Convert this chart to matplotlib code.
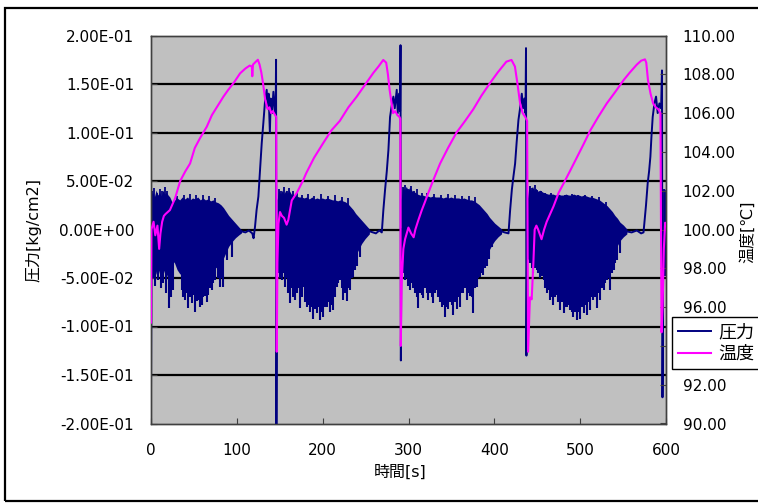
import numpy as np
import matplotlib
matplotlib.use("Agg")
import matplotlib.pyplot as plt
from matplotlib.patches import Rectangle
from matplotlib.ticker import FuncFormatter, MultipleLocator

plt.rcParams['font.family'] = ['DejaVu Sans', 'Noto Sans CJK JP']

NAVY = '#000080'
MAGENTA = '#FF00FF'

# ---------------- data ----------------
# pressure trace: non-oscillating parts (cycle start, flat, rise, peak, drop)
p_trace_t = [0.0, 0.6, 106, 110, 114, 118, 119.5, 121.2, 123, 125.1, 127, 129, 130.9, 132.9,
             134.8, 136, 137, 138.5, 139.5, 141, 142.6, 144.5, 145.3, 145.7, 146.1, 146.9,
             255.2, 262, 266, 268.9, 270.7, 272.7, 274.7, 276.6, 278.5, 280.5, 282.4, 284,
             286.3, 287.5, 289, 290.2, 290.7, 291.1, 291.8,
             408.7, 412, 416.5, 418.4, 420.4, 422.3, 424.2, 426, 428.1, 430, 432, 433.5,
             435, 436.3, 436.9, 437.4, 438.3,
             554.4, 560, 566, 571, 573.8, 576.7, 578.7, 580.3, 581.8, 583, 584.5, 586.5,
             588.4, 590.3, 592.3, 594.3, 595.3, 595.9, 597.0, 600]
p_trace_v = [-0.173, 0.0, -0.002, -0.003, -0.001, -0.004, -0.009, 0.003, 0.02, 0.034, 0.061, 0.089, 0.11, 0.133,
             0.144, 0.125, 0.14, 0.10, 0.135, 0.12, 0.142, 0.12, 0.13, 0.175, -0.205, 0.0,
             -0.002, -0.004, -0.001, -0.003, 0.02, 0.041, 0.06, 0.082, 0.116, 0.128, 0.137, 0.125,
             0.144, 0.12, 0.14, 0.122, 0.19, -0.135, 0.0,
             -0.002, -0.003, -0.004, 0.02, 0.041, 0.055, 0.068, 0.09, 0.113, 0.125, 0.14, 0.125,
             0.135, 0.12, 0.187, -0.13, 0.0,
             -0.002, -0.003, -0.001, -0.004, -0.003, 0.025, 0.048, 0.06, 0.075, 0.095, 0.116, 0.13,
             0.137, 0.12, 0.13, 0.125, 0.164, -0.173, 0.0, 0.0]

# dense oscillation band: solid core envelope, NaN separates cycles
band_t = [0.8, 2.5, 4.5, 6.5, 8.5, 10.5, 12.5, 14.5, 16.5, 18.5, 20.5, 22.5, 25, 28, 31, 34, 37, 40, 43,
          46, 49, 52, 55, 58, 61, 64, 67, 70, 73, 76, 79, 82, 85, 88, 91, 95, 99, 103, 106, np.nan,
          147.5, 149.5, 151.5, 153.5, 155.5, 157.5, 159.5, 161.5, 164, 167, 170, 173, 176, 179, 182,
          185, 188, 191, 194, 197, 200, 203, 206, 209, 212, 215, 218, 221, 224, 227, 230, 233, 236,
          239, 242, 246, 250, 255, np.nan,
          292, 294, 296, 298, 300, 302, 305, 308, 311, 314, 317, 320, 323, 326, 329, 332, 335, 338,
          341, 344, 347, 350, 353, 356, 359, 362, 365, 368, 371, 374, 377, 380, 383, 386, 389, 392,
          395, 398, 401, 405, 409, np.nan,
          439, 441, 443, 445, 447, 449, 451, 454, 457, 460, 463, 466, 469, 472, 475, 478, 481, 484,
          487, 490, 493, 496, 499, 502, 505, 508, 511, 514, 517, 520, 523, 526, 529, 532, 535, 538,
          541, 544, 547, 551, 555, np.nan,
          597.3, 598.5, 600]
band_hi = [0.035, 0.038, 0.033, 0.04, 0.035, 0.038, 0.034, 0.04, 0.036, 0.038, 0.035, 0.033, 0.028, 0.03, 0.032, 0.03, 0.033, 0.031, 0.033,
           0.03, 0.032, 0.031, 0.033, 0.03, 0.032, 0.03, 0.031, 0.029, 0.03, 0.028, 0.027, 0.025, 0.022, 0.018, 0.014, 0.01, 0.006, 0.002, -0.001, np.nan,
           0.03, 0.04, 0.036, 0.04, 0.036, 0.04, 0.037, 0.04, 0.036, 0.035, 0.034, 0.033, 0.033, 0.032, 0.033,
           0.031, 0.033, 0.031, 0.032, 0.031, 0.032, 0.031, 0.032, 0.031, 0.03, 0.03, 0.029, 0.03, 0.029, 0.028, 0.026, 0.023, 0.02,
           0.016, 0.013, 0.009, 0.005, 0.0, np.nan,
           0.03, 0.044, 0.04, 0.044, 0.04, 0.043, 0.039, 0.038, 0.036, 0.035, 0.035, 0.034, 0.034, 0.033, 0.034, 0.033, 0.033, 0.033,
           0.032, 0.033, 0.032, 0.033, 0.032, 0.032, 0.032, 0.031, 0.032, 0.031, 0.03, 0.03, 0.029, 0.027, 0.025, 0.022, 0.019, 0.016,
           0.012, 0.009, 0.006, 0.003, 0.0, np.nan,
           0.03, 0.045, 0.04, 0.044, 0.04, 0.042, 0.039, 0.04, 0.038, 0.037, 0.036, 0.036, 0.036, 0.035, 0.036, 0.035, 0.035, 0.036,
           0.035, 0.035, 0.036, 0.035, 0.035, 0.034, 0.035, 0.034, 0.033, 0.033, 0.032, 0.031, 0.03, 0.028, 0.026, 0.024, 0.021, 0.018,
           0.014, 0.011, 0.007, 0.004, 0.0, np.nan,
           0.035, 0.042, 0.04]
band_lo = [-0.03, -0.042, -0.035, -0.047, -0.04, -0.046, -0.038, -0.047, -0.042, -0.05, -0.045, -0.042, -0.032, -0.035, -0.042, -0.046, -0.048, -0.05, -0.047,
           -0.052, -0.048, -0.052, -0.05, -0.052, -0.048, -0.05, -0.046, -0.046, -0.042, -0.04, -0.038, -0.035, -0.03, -0.024, -0.018, -0.013, -0.009, -0.006, -0.004, np.nan,
           -0.03, -0.04, -0.044, -0.04, -0.047, -0.043, -0.048, -0.05, -0.047, -0.05, -0.048, -0.052, -0.049, -0.052, -0.054,
           -0.055, -0.057, -0.055, -0.057, -0.058, -0.057, -0.055, -0.054, -0.055, -0.052, -0.048, -0.043, -0.045, -0.047, -0.047, -0.043, -0.037, -0.032,
           -0.027, -0.022, -0.015, -0.01, -0.005, np.nan,
           -0.035, -0.04, -0.044, -0.042, -0.046, -0.044, -0.047, -0.047, -0.05, -0.048, -0.052, -0.049, -0.052, -0.05, -0.053, -0.05, -0.053, -0.055,
           -0.056, -0.057, -0.056, -0.057, -0.056, -0.055, -0.055, -0.05, -0.049, -0.052, -0.05, -0.052, -0.047, -0.042, -0.04, -0.036, -0.031, -0.026,
           -0.021, -0.016, -0.012, -0.008, -0.005, np.nan,
           -0.03, -0.033, -0.035, -0.037, -0.038, -0.037, -0.04, -0.043, -0.046, -0.048, -0.05, -0.052, -0.054, -0.053, -0.056, -0.057, -0.059, -0.057,
           -0.06, -0.062, -0.06, -0.062, -0.061, -0.06, -0.061, -0.058, -0.057, -0.055, -0.052, -0.052, -0.049, -0.045, -0.042, -0.037, -0.034, -0.028,
           -0.022, -0.017, -0.012, -0.008, -0.005, np.nan,
           -0.04, -0.048, -0.045]

# downward spikes of the oscillation
spike_t = [2.0, 5.0, 8.5, 11.5, 14.4, 17.5, 21.0, 23.5, 26.0, 35.7, 37.5, 39.6, 41.5, 43.5, 45.5, 47.4,
           49.3, 51.3, 53.2, 55.2, 57.2, 59.1, 61.0, 62.9, 64.8, 66.8, 68.7, 70.7, 72.6, 74.6, 77.5,
           80.4, 82.3, 84.3, 88.2, 94.0,
           148.0, 150.3, 152.3, 154.3, 156.2, 158.2, 160.0, 162.0, 164.0, 165.9, 167.8, 169.8, 171.7,
           173.6, 175.5, 177.5, 179.4, 181.4, 183.3, 185.3, 187.2, 189.2, 191.1, 193.0, 195.0, 196.9,
           198.8, 200.8, 202.7, 204.7, 206.6, 208.6, 210.5, 212.5, 214.4, 216.4, 218.3, 220.3, 222.2,
           224.2, 226.1, 228.0, 230.0, 231.9, 233.8, 235.8, 237.7, 239.7, 243.6,
           294.1, 296.0, 298.0, 299.9, 301.9, 303.8, 305.8, 307.7, 309.6, 311.6, 313.5, 315.5, 317.4,
           319.3, 321.3, 323.2, 325.1, 327.1, 329.0, 331.0, 332.9, 334.9, 336.8, 338.8, 340.7, 342.7,
           344.6, 346.5, 348.5, 350.4, 352.4, 354.3, 356.2, 358.2, 360.1, 362.0, 364.0, 365.9, 367.9,
           369.8, 371.8, 373.7, 375.7, 377.6, 379.6, 381.5, 383.4, 385.4, 387.3, 389.2, 391.2, 394.0, 397.1,
           441.7, 443.6, 445.6, 447.5, 449.5, 451.4, 453.4, 455.3, 457.3, 459.2, 461.2, 463.1, 465.0,
           467.0, 468.9, 470.8, 472.8, 474.7, 476.7, 478.6, 480.6, 482.5, 484.5, 486.4, 488.3, 490.3,
           492.2, 494.2, 496.1, 498.0, 500.0, 501.9, 503.9, 505.8, 507.8, 509.7, 511.7, 513.6, 515.5,
           517.5, 519.4, 521.3, 523.3, 525.2, 527.2, 529.1, 531.1, 533.0, 535.0, 536.9, 538.9, 540.8,
           542.7, 546.6, 598.5]
spike_lo = [-0.05, -0.058, -0.052, -0.06, -0.055, -0.065, -0.081, -0.07, -0.062, -0.062, -0.07, -0.073, -0.065, -0.081, -0.07, -0.076,
            -0.068, -0.085, -0.074, -0.073, -0.08, -0.078, -0.07, -0.069, -0.075, -0.068, -0.06, -0.062, -0.055, -0.052, -0.05,
            -0.059, -0.05, -0.059, -0.031, -0.028,
            -0.045, -0.05, -0.052, -0.045, -0.059, -0.05, -0.065, -0.076, -0.06, -0.07, -0.073, -0.065, -0.06,
            -0.081, -0.07, -0.059, -0.075, -0.08, -0.078, -0.085, -0.08, -0.092, -0.082, -0.0865, -0.08, -0.093,
            -0.085, -0.09, -0.08, -0.08, -0.075, -0.085, -0.078, -0.083, -0.07, -0.059, -0.055, -0.052, -0.06,
            -0.073, -0.065, -0.074, -0.06, -0.062, -0.05, -0.049, -0.042, -0.038, -0.028,
            -0.045, -0.052, -0.05, -0.058, -0.062, -0.055, -0.06, -0.065, -0.07, -0.081, -0.065, -0.068, -0.071,
            -0.06, -0.065, -0.073, -0.065, -0.07, -0.076, -0.065, -0.062, -0.07, -0.075, -0.08, -0.078, -0.09,
            -0.08, -0.082, -0.075, -0.078, -0.088, -0.075, -0.082, -0.07, -0.08, -0.065, -0.065, -0.06, -0.073,
            -0.065, -0.069, -0.07, -0.0865, -0.06, -0.059, -0.05, -0.0486, -0.045, -0.047, -0.04, -0.038, -0.03, -0.018,
            -0.035, -0.04, -0.045, -0.04, -0.042, -0.045, -0.05, -0.048, -0.052, -0.06, -0.065, -0.062, -0.073,
            -0.07, -0.078, -0.07, -0.068, -0.075, -0.083, -0.075, -0.0865, -0.08, -0.08, -0.078, -0.083, -0.085,
            -0.09, -0.085, -0.093, -0.085, -0.092, -0.08, -0.0865, -0.078, -0.088, -0.075, -0.083, -0.07, -0.073,
            -0.07, -0.081, -0.065, -0.073, -0.06, -0.062, -0.055, -0.052, -0.05, -0.062, -0.045, -0.042, -0.035,
            -0.031, -0.024, -0.048]

# upward spikes of the oscillation
up_t = [1.5, 4, 7, 10, 13, 16, 19, 30, 38, 45, 52, 60, 68, 75,
        149, 152, 155, 158, 161, 166, 170, 176, 183, 190, 198, 206, 214, 222, 229,
        293.5, 296.5, 299.5, 303, 306, 310, 316, 322, 330, 338, 346, 354, 362, 370, 377,
        441, 444, 447, 450, 454, 459, 466, 474, 482, 490, 498, 506, 514, 522, 530, 598]
up_hi = [0.04, 0.043, 0.038, 0.042, 0.04, 0.044, 0.04, 0.035, 0.036, 0.037, 0.036, 0.036, 0.035, 0.032,
         0.042, 0.04, 0.044, 0.04, 0.043, 0.04, 0.038, 0.036, 0.037, 0.035, 0.037, 0.035, 0.036, 0.034, 0.032,
         0.044, 0.046, 0.042, 0.045, 0.04, 0.042, 0.038, 0.038, 0.037, 0.036, 0.037, 0.036, 0.035, 0.035, 0.033,
         0.045, 0.043, 0.046, 0.041, 0.04, 0.038, 0.038, 0.037, 0.036, 0.037, 0.036, 0.036, 0.035, 0.033, 0.028, 0.042]

# temperature
temp_t = [0.0, 0.5, 3, 5, 7.5, 9.5, 11, 13, 15, 17, 22, 28, 34, 40, 45.5, 51, 57, 65, 71, 78, 84.4, 90, 97,
          103.8, 110, 115, 117.5, 118, 118.8, 121, 124.5, 126.5, 128.5, 130.5, 133, 136, 138, 140, 142,
          144.5, 145.9, 146.5, 147.3, 148.5, 150.3, 152.5, 155, 158, 160, 162, 164, 170, 177.5, 180.8,
          190, 200.7, 210, 220, 230, 239.7, 250, 259, 265, 270.6, 274, 276, 278, 280, 282, 284.5, 287,
          289.5, 290.5, 291.0, 292, 294, 296, 299.9, 303, 306, 308, 311.6, 315.5, 319, 323.2, 329, 336.8,
          346, 356, 366, 375.5, 385, 395, 404, 414, 420, 424, 427, 430, 433, 436, 438.2, 439.3, 441.5,
          443.5, 445.5, 447, 449, 451, 455, 458, 461, 465, 469, 475, 481, 488, 496, 504, 511.7, 521, 531,
          541, 550.6, 558, 566, 571, 575.5, 577, 579, 582, 585, 588, 591, 593.5, 594.8, 596, 597.5, 599, 600]
temp_v = [95.2, 100.0, 100.4, 99.7, 100.2, 99.0, 99.8, 100.4, 100.7, 100.8, 101.0, 101.6, 102.5, 103.0, 103.4, 104.2, 104.7, 105.3, 105.9, 106.4, 106.85, 107.2, 107.6,
          108.05, 108.3, 108.45, 108.4, 107.9, 108.5, 108.6, 108.75, 108.5, 108.1, 107.55, 106.7, 106.2, 106.3, 106.0, 106.1,
          105.9, 105.8, 93.7, 98.3, 100.3, 100.9, 100.7, 100.6, 100.25, 100.5, 101.0, 101.5, 101.9, 102.56, 102.9,
          103.7, 104.46, 105.1, 105.6, 106.3, 106.85, 107.5, 108.07, 108.4, 108.74, 108.6, 108.0, 107.2, 106.6, 106.0, 106.1, 105.9,
          105.8, 105.7, 94.0, 97.2, 99.0, 99.5, 100.1, 99.8, 99.6, 100.0, 100.5, 101.0, 101.4, 101.9, 102.56, 103.4,
          104.2, 105.0, 105.6, 106.2, 106.9, 107.55, 108.1, 108.65, 108.74, 108.4, 107.5, 106.5, 106.0, 105.8, 105.6, 93.7, 96.5,
          96.4, 98.3, 100.0, 100.2, 100.0, 99.5, 100.0, 100.4, 100.8, 101.2, 101.9, 102.4, 103.0, 103.7, 104.4, 105.1, 105.8, 106.5,
          107.1, 107.7, 108.1, 108.5, 108.7, 108.77, 108.6, 107.7, 107.0, 106.5, 106.3, 106.2, 106.0, 94.7, 96.0, 99.0, 100.35, 100.2]

x_ticks = [0, 100, 200, 300, 400, 500, 600]

# ---------------- figure ----------------
W, H = 758, 503
fig = plt.figure(figsize=(W / 100, H / 100), dpi=100)
fig.patch.set_facecolor('white')

ax = fig.add_axes([151 / W, 1 - 423.5 / H, 515 / W, 388 / H])
ax.set_facecolor('#C0C0C0')

ax.fill_between(band_t, band_lo, band_hi, color=NAVY, lw=0, zorder=2)
ax.vlines(spike_t, 0.0, spike_lo, color=NAVY, lw=1.5, zorder=2)
ax.vlines(up_t, 0.0, up_hi, color=NAVY, lw=1.3, zorder=2)
lp, = ax.plot(p_trace_t, p_trace_v, color=NAVY, lw=1.4, zorder=3, label='圧力')

ax.set_xlim(0, 600)
ax.set_ylim(-0.2, 0.2)
ax.set_xticks(x_ticks)
ax.yaxis.set_major_locator(MultipleLocator(0.05))
ax.yaxis.set_major_formatter(FuncFormatter(lambda v, p: '%.2E' % (0.0 if abs(v) < 1e-12 else v)))
for g in [-0.15, -0.1, -0.05, 0.0, 0.05, 0.1, 0.15]:
    ax.axhline(g, color='black', lw=1.6, zorder=1)
ax.tick_params(axis='both', direction='in', length=4, labelsize=11, color='#404040')
ax.tick_params(axis='y', pad=12)
ax.tick_params(axis='x', pad=14)
for s in ax.spines.values():
    s.set_color('#404040')
    s.set_linewidth(1.0)

ax2 = ax.twinx()
lt, = ax2.plot(temp_t, temp_v, color=MAGENTA, lw=1.5, zorder=4, label='温度')
ax2.set_ylim(90, 110)
ax2.yaxis.set_major_locator(MultipleLocator(2))
# the 94.00 label is covered by the legend box in the reference
ax2.yaxis.set_major_formatter(FuncFormatter(lambda v, p: '' if abs(v - 94) < 1e-6 else '%.2f' % v))
ax2.tick_params(axis='y', direction='in', length=4, labelsize=11, pad=12, color='#404040')
for s in ax2.spines.values():
    s.set_color('#404040')
    s.set_linewidth(1.0)

fig.text(33 / W, 1 - 230 / H, '圧力[kg/cm2]', rotation=90, ha='center', va='center', fontsize=11.5)
fig.text(747 / W, 1 - 232 / H, '温度[℃]', rotation=90, ha='center', va='center', fontsize=11.5)
fig.text(400 / W, 1 - 472 / H, '時間[s]', ha='center', va='center', fontsize=11.5)

leg = fig.legend([lp, lt], ['圧力', '温度'], loc='upper left',
                 bbox_to_anchor=(672 / W, 1 - 317 / H), bbox_transform=fig.transFigure,
                 fontsize=13, frameon=True, fancybox=False, framealpha=1,
                 edgecolor='black', handlelength=1.8, handletextpad=0.4,
                 borderpad=0.35, labelspacing=0.2, borderaxespad=0)
leg.get_frame().set_linewidth(1.0)

fig.patches.append(Rectangle((5 / W, 2 / H), 1.2, (501 - 8) / H, transform=fig.transFigure,
                             fill=False, edgecolor='black', lw=1.6, clip_on=False))

fig.savefig('out.png', dpi=100)
